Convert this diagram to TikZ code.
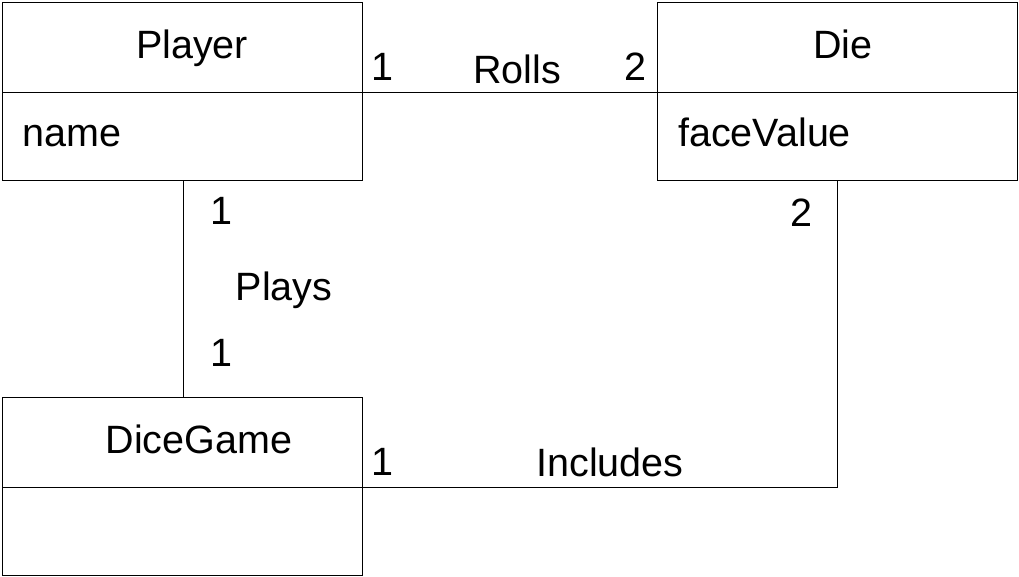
\documentclass[tikz,border=0pt]{standalone}
\usepackage{fontspec}
\setmainfont{Liberation Sans}
\begin{document}
\begin{tikzpicture}[x=1pt,y=-1pt,
  box/.style={draw=black,line width=1pt,fill=white},
  conn/.style={draw=black,line width=1pt},
  lbl/.style={font=\fontsize{39.5}{46}\selectfont,inner sep=0pt,anchor=base},
  lbll/.style={font=\fontsize{39.5}{46}\selectfont,inner sep=0pt,anchor=base west}]
\useasboundingbox (0,0) rectangle (1019,577);
% Player
\draw[box] (2,3) rectangle (362,181);
\draw[conn] (2,93) -- (362,93);
\node[lbl] (player) at (192,59) {Player};
\node[lbll] (name) at (22,147) {name};
% Die
\draw[box] (657,3) rectangle (1017,181);
\draw[conn] (657,93) -- (1017,93);
\node[lbl] (die) at (843,59) {Die};
\node[lbll] (fv) at (678,147) {faceValue};
% DiceGame
\draw[box] (2,397) rectangle (362,575);
\draw[conn] (2,487) -- (362,487);
\node[lbl] (dg) at (199,453) {DiceGame};
% connectors
\coordinate (rollA) at (362,93); \coordinate (rollB) at (657,93);
\draw[conn] (rollA) -- (rollB);
\coordinate (playA) at (183,181); \coordinate (playB) at (183,397);
\draw[conn] (playA) -- (playB);
\coordinate (incA) at (362,487); \coordinate (incC) at (837,487); \coordinate (incB) at (837,181);
\draw[conn] (incA) -- (incC) -- (incB);
% labels
\node[lbl] (m1) at (382,81) {1};
\node[lbl] (rolls) at (517,84) {Rolls};
\node[lbl] (m2) at (635,81) {2};
\node[lbl] (m3) at (221,225) {1};
\node[lbl] (plays) at (284,300) {Plays};
\node[lbl] (m4) at (221,366) {1};
\node[lbl] (m5) at (801,226) {2};
\node[lbl] (m6) at (382,475) {1};
\node[lbl] (inc) at (610,476) {Includes};
\end{tikzpicture}
\end{document}
